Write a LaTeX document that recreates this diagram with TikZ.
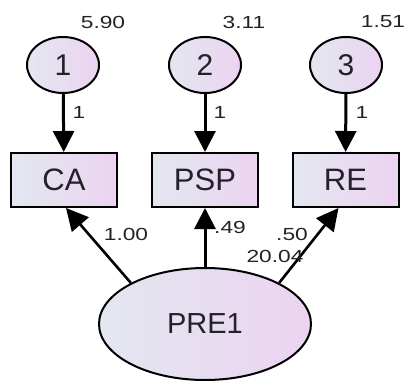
\documentclass[tikz,border=0pt]{standalone}
\usepackage{fontspec}
\usepackage{graphicx}
\setmainfont{Liberation Sans}
\usetikzlibrary{shapes.geometric,arrows.meta}
\definecolor{shL}{HTML}{E3E7F0}
\definecolor{shR}{HTML}{ECD3F1}
\definecolor{txt}{HTML}{222228}
\newcommand\widelbl[1]{\scalebox{1.3}[1]{#1}}
\begin{document}
\begin{tikzpicture}[x=1pt,y=-1pt,
  errnode/.style={ellipse,draw=black,line width=2pt,left color=shL,right color=shR,
    minimum width=72pt,minimum height=56pt,inner sep=0pt,text=txt,font=\fontsize{30}{32}\selectfont},
  obsnode/.style={rectangle,draw=black,line width=2pt,left color=shL,right color=shR,
    minimum width=106pt,minimum height=54pt,inner sep=0pt,text=txt,font=\fontsize{31}{34}\selectfont},
  latnode/.style={ellipse,draw=black,line width=2pt,left color=shL,right color=shR,
    minimum width=212pt,minimum height=112pt,inner sep=0pt,text=txt,font=\fontsize{29}{32}\selectfont},
  lbl/.style={text=txt,inner sep=0pt,font=\fontsize{17.5}{20}\selectfont},
  arr/.style={line width=3pt,-{Triangle[length=21pt,width=21pt]}},
  darr/.style={line width=2.6pt,-{Triangle[length=22pt,width=22pt]}}]
\useasboundingbox (0,0) rectangle (406,380);
\node[errnode] (e1) at (63,65) {1};
\node[errnode] (e2) at (205,65) {2};
\node[errnode] (e3) at (346,65) {3};
\node[obsnode] (ca) at (64,180) {CA};
\node[obsnode] (psp) at (205,180) {PSP};
\node[obsnode] (re) at (345.5,180) {RE};
\node[latnode] (pre) at (205,324) {PRE1};
\draw[arr] (e1) -- (ca);
\draw[arr] (e2) -- (psp);
\draw[arr] (e3) -- (re);
\draw[darr] (pre.151) -- ([xshift=2pt]ca.south);
\draw[arr] (pre.north) -- (psp.south);
\draw[darr] (pre.29) -- ([xshift=-7pt]re.south);
\node[lbl] (v1) at (103,22) {\widelbl{5.90}};
\node[lbl] (v2) at (244,22) {\widelbl{3.11}};
\node[lbl] (v3) at (383,22) {\widelbl{1.51}};
\node[lbl] (w1) at (79,112) {\widelbl{1}};
\node[lbl] (w2) at (220,112) {\widelbl{1}};
\node[lbl] (w3) at (362,112) {\widelbl{1}};
\node[lbl] (l1) at (126,234) {\widelbl{1.00}};
\node[lbl] (l2) at (230,227) {\widelbl{.49}};
\node[lbl] (l3) at (292,234) {\widelbl{.50}};
\node[lbl] (l4) at (275,256) {\widelbl{20.04}};
\end{tikzpicture}
\end{document}
